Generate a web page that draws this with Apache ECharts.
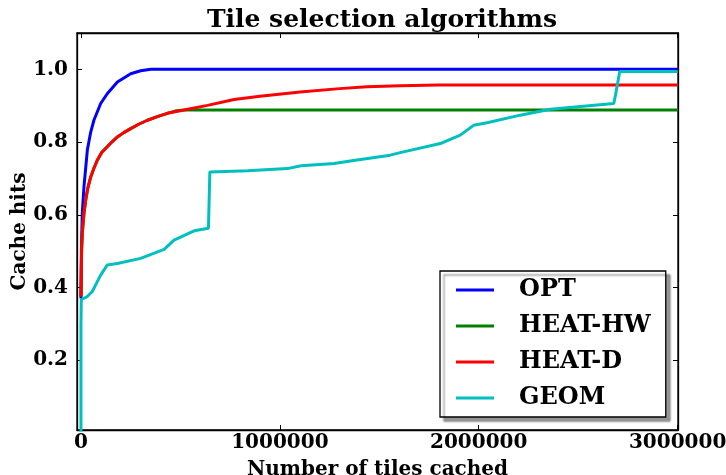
<!DOCTYPE html>
<html><head><meta charset="utf-8">
<script src="https://cdn.jsdelivr.net/npm/echarts@6/dist/echarts.min.js"></script>
<style>html,body{margin:0;padding:0;background:#fff}#c{width:726px;height:475px}</style>
</head><body><div id="c"></div>
<script>
const seriesNames = ['OPT', 'HEAT-HW', 'HEAT-D', 'GEOM'];
const xTicks = [0, 1000000, 2000000, 3000000];
const yTicks = [0.2, 0.4, 0.6, 0.8, 1.0];

const optX = [0, 2000, 6500, 15000, 32000, 48000, 65000, 99000, 132000, 183000, 250000, 300000, 351000, 3000000];
const optY = [0.37, 0.50, 0.604, 0.677, 0.778, 0.825, 0.860, 0.906, 0.933, 0.965, 0.988, 0.996, 1.0, 1.0];

const heatDX = [0, 3000, 6500, 15000, 23600, 35000, 49000, 65000, 82000, 105000, 132000, 155000, 183000, 215000, 250000, 290000, 334000, 384000, 434000, 518000, 636000, 770000, 900000, 1102000, 1300000, 1438000, 1605000, 1800000, 2109000, 3000000];
const heatDY = [0.375, 0.50, 0.549, 0.604, 0.640, 0.675, 0.704, 0.728, 0.750, 0.772, 0.787, 0.800, 0.814, 0.826, 0.837, 0.849, 0.860, 0.870, 0.879, 0.888, 0.901, 0.917, 0.926, 0.938, 0.947, 0.952, 0.955, 0.957, 0.957, 0.957];

const heatHWX = [0, 3000, 6500, 15000, 23600, 35000, 49000, 65000, 82000, 105000, 132000, 155000, 183000, 215000, 250000, 290000, 334000, 384000, 434000, 480000, 520000, 3000000];
const heatHWY = [0.375, 0.50, 0.549, 0.604, 0.640, 0.675, 0.704, 0.728, 0.750, 0.772, 0.787, 0.800, 0.814, 0.826, 0.837, 0.849, 0.860, 0.870, 0.879, 0.886, 0.888, 0.888];

const geomX = [0, 0, 1500, 32000, 57000, 82000, 99000, 132000, 183000, 300000, 418000, 468000, 569000, 641000, 648000, 837000, 1038000, 1106000, 1273000, 1354000, 1555000, 1605000, 1807000, 1907000, 1974000, 2042000, 2209000, 2360000, 2679000, 2688000, 2709000, 3000000];
const geomY = [0.0, 0.30, 0.367, 0.375, 0.389, 0.416, 0.434, 0.462, 0.466, 0.480, 0.505, 0.530, 0.556, 0.563, 0.718, 0.721, 0.727, 0.735, 0.741, 0.748, 0.764, 0.771, 0.796, 0.819, 0.846, 0.853, 0.874, 0.890, 0.906, 0.93, 0.994, 0.994];

const colors = ['#0000ff', '#008000', '#ff0000', '#00bfbf'];
const zip = (xs, ys) => xs.map((x, i) => [x, ys[i]]);
const dataSets = [zip(optX, optY), zip(heatHWX, heatHWY), zip(heatDX, heatDY), zip(geomX, geomY)];

const FONT = 'DejaVu Serif';
const X_MIN = -20000, X_MAX = 3002000, Y_MIN = 0.008, Y_MAX = 1.1;
const tickStyle = {show: true, inside: true, length: 5, lineStyle: {color: '#000', width: 1}};

const chart = echarts.init(document.getElementById('c'), null, {renderer: 'canvas'});
chart.setOption({
  animation: false,
  backgroundColor: '#fff',
  title: {
    text: 'Tile selection algorithms', left: 377, top: 3, textAlign: 'center',
    textStyle: {fontFamily: FONT, fontWeight: 'bold', fontSize: 25, color: '#000'}
  },
  grid: {left: 77, right: 48, top: 33, bottom: 45, containLabel: false, outerBoundsMode: 'none',
    show: true, borderColor: '#000', borderWidth: 1.3, backgroundColor: 'transparent'},
  legend: {
    orient: 'vertical', left: 440, top: 271,
    data: seriesNames, icon: 'rect', itemWidth: 38, itemHeight: 3, itemGap: 10,
    padding: [6, 15, 6, 16],
    backgroundColor: '#fff', borderColor: '#000', borderWidth: 1.3,
    shadowColor: 'rgba(0,0,0,0.4)', shadowBlur: 2, shadowOffsetX: 4, shadowOffsetY: 4,
    textStyle: {fontFamily: FONT, fontWeight: 'bold', fontSize: 24, color: '#000', lineHeight: 26, padding: [0, 0, 0, 20]}
  },
  xAxis: [{
    type: 'value', min: X_MIN, max: X_MAX, position: 'bottom',
    name: 'Number of tiles cached', nameLocation: 'middle', nameGap: 30,
    nameTextStyle: {fontFamily: FONT, fontWeight: 'bold', fontSize: 20, color: '#000'},
    axisLine: {show: true, onZero: false, lineStyle: {color: '#000', width: 1.3}},
    axisTick: Object.assign({customValues: xTicks}, tickStyle),
    axisLabel: {customValues: xTicks, margin: 3, fontFamily: FONT, fontWeight: 'bold', fontSize: 20, color: '#000', formatter: v => String(v)},
    splitLine: {show: false}
  }, {
    type: 'value', min: X_MIN, max: X_MAX, position: 'top',
    axisLine: {show: true, onZero: false, lineStyle: {color: '#000', width: 1.3}},
    axisTick: Object.assign({customValues: xTicks}, tickStyle),
    axisLabel: {show: false}, splitLine: {show: false}
  }],
  yAxis: [{
    type: 'value', min: Y_MIN, max: Y_MAX, position: 'left',
    name: 'Cache hits', nameLocation: 'middle', nameGap: 47, nameRotate: 90, nameMoveOverlap: false,
    nameTextStyle: {fontFamily: FONT, fontWeight: 'bold', fontSize: 20, color: '#000'},
    axisLine: {show: true, onZero: false, lineStyle: {color: '#000', width: 1.3}},
    axisTick: Object.assign({customValues: yTicks}, tickStyle),
    axisLabel: {customValues: yTicks, margin: 9, fontFamily: FONT, fontWeight: 'bold', fontSize: 20, color: '#000', formatter: v => v.toFixed(1)},
    splitLine: {show: false}
  }, {
    type: 'value', min: Y_MIN, max: Y_MAX, position: 'right',
    axisLine: {show: true, onZero: false, lineStyle: {color: '#000', width: 1.3}},
    axisTick: Object.assign({customValues: yTicks}, tickStyle),
    axisLabel: {show: false}, splitLine: {show: false}
  }],
  series: seriesNames.map((name, i) => ({
    name, type: 'line', data: dataSets[i], xAxisIndex: 0, yAxisIndex: 0,
    showSymbol: false, symbol: 'none', clip: true,
    lineStyle: {color: colors[i], width: 3}, itemStyle: {color: colors[i]},
    z: 2 + i
  }))
});
</script></body></html>
